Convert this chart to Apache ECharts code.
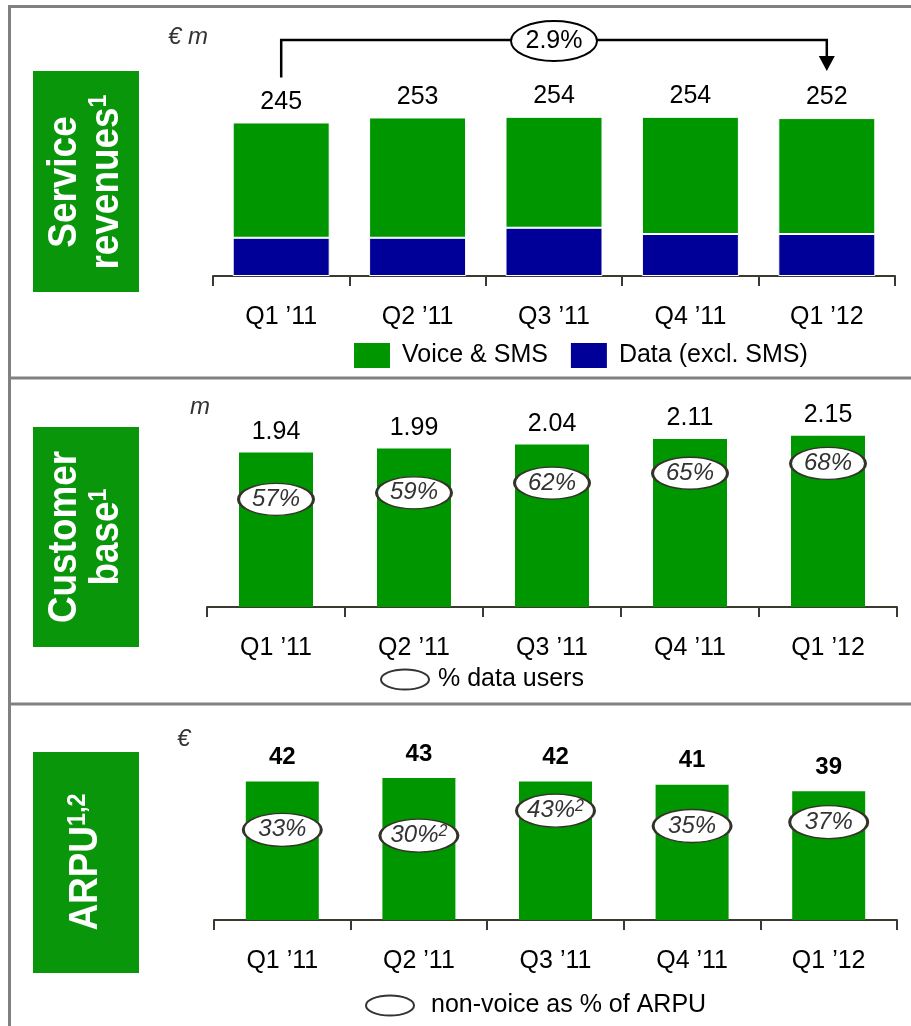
<!DOCTYPE html>
<html>
<head>
<meta charset="utf-8">
<script src="https://cdn.jsdelivr.net/npm/echarts@6/dist/echarts.min.js"></script>
<style>
  html, body { margin: 0; padding: 0; background: #fff; }
  #chart { width: 911px; height: 1026px; }
</style>
</head>
<body>
<div id="chart"></div>
<script>
// Quarterly KPIs: service revenues, customer base, ARPU
const quarters = ['Q1 \u201911', 'Q2 \u201911', 'Q3 \u201911', 'Q4 \u201911', 'Q1 \u201912'];

// Service revenues, EUR m
const serviceRevenueTotal = [245, 253, 254, 254, 252];
const dataExclSms = [61, 61, 77, 67, 67];
const voiceAndSms = serviceRevenueTotal.map((t, i) => t - dataExclSms[i]);

// Customer base, m, and share of data users
const customerBase = [1.94, 1.99, 2.04, 2.11, 2.15];
const dataUsersPct = [57, 59, 62, 65, 68];

// ARPU, EUR, and non-voice share of ARPU (with footnote marks)
const arpu = [42, 43, 42, 41, 39];
const nonVoicePct = [33, 30, 43, 35, 37];
const nonVoiceNote = ['', '2', '2', '', ''];

const FONT = '"Liberation Sans", Arial, Helvetica, sans-serif';
const GREEN = '#009600';
const BOX_GREEN = '#0a960a';
const BLUE = '#000099';
const AXIS = '#3a3a30';
const FRAME = '#808080';
const ELLIPSE = 'path://M0,10A24,10,0,1,1,48,10A24,10,0,1,1,0,10Z';

const chart = echarts.init(document.getElementById('chart'), null, { renderer: 'canvas' });

function xAxisFor(gridIndex) {
  return {
    type: 'category',
    gridIndex: gridIndex,
    data: quarters,
    axisLine: { show: true, lineStyle: { color: AXIS, width: 2 } },
    axisTick: { show: true, length: 10, lineStyle: { color: AXIS, width: 2 } },
    axisLabel: { fontSize: 25, color: '#000', fontFamily: FONT, margin: 29, interval: 0 },
    splitLine: { show: false }
  };
}

function hiddenY(gridIndex, min, max) {
  return { type: 'value', gridIndex: gridIndex, min: min, max: max, show: false, splitLine: { show: false } };
}

function sideLabel(cx, cy, text) {
  return {
    type: 'text',
    x: cx, y: cy,
    rotation: Math.PI / 2,
    scaleX: 0.9,
    style: {
      text: text,
      fill: '#fff',
      font: 'bold 41px ' + FONT,
      lineHeight: 42,
      align: 'center', verticalAlign: 'middle',
      textAlign: 'center', textVerticalAlign: 'middle',
      rich: {
        sup: { fontSize: 26, fontWeight: 'bold', fontFamily: FONT, fill: '#fff', color: '#fff', lineHeight: 41, verticalAlign: 'top' }
      }
    }
  };
}

function unitText(x, y, text) {
  return {
    type: 'text', x: x, y: y,
    style: {
      text: text, fill: '#333', font: 'italic 24px ' + FONT,
      verticalAlign: 'middle', textVerticalAlign: 'middle'
    }
  };
}

function frameLine(x1, y1, x2, y2) {
  return { type: 'line', shape: { x1: x1, y1: y1, x2: x2, y2: y2 }, style: { stroke: FRAME, lineWidth: 3 }, silent: true };
}

const ellipseLabel = {
  show: true,
  position: 'inside',
  fontSize: 24,
  fontStyle: 'italic',
  fontFamily: FONT,
  color: '#333',
  rich: {
    sup: { fontSize: 16, fontStyle: 'italic', fontFamily: FONT, color: '#333', lineHeight: 20, verticalAlign: 'top' }
  }
};

const option = {
  backgroundColor: '#fff',
  animation: false,
  textStyle: { fontFamily: FONT },
  grid: [
    { left: 213, top: 88, width: 682, height: 188, outerBoundsMode: 'none', containLabel: false },
    { left: 207, top: 408, width: 690, height: 199, outerBoundsMode: 'none', containLabel: false },
    { left: 214, top: 755, width: 683, height: 165, outerBoundsMode: 'none', containLabel: false }
  ],
  xAxis: [xAxisFor(0), xAxisFor(1), xAxisFor(2)],
  yAxis: [
    hiddenY(0, 0, 300),
    hiddenY(1, 0, 2.5),
    hiddenY(2, 0, 50),
    hiddenY(1, 24, 85),
    hiddenY(2, -14, 72)
  ],
  legend: [
    {
      data: ['Voice & SMS', 'Data (excl. SMS)'],
      left: 354, top: 343, padding: 0,
      itemWidth: 36, itemHeight: 25, itemGap: 23,
      icon: 'rect',
      itemStyle: { borderWidth: 0 },
      textStyle: { fontSize: 25, color: '#000', fontFamily: FONT, padding: [0, 0, 0, 7] },
      selectedMode: false
    },
    {
      data: ['% data users'],
      left: 380, top: 667, padding: 0,
      itemWidth: 48, itemHeight: 20,
      icon: ELLIPSE,
      itemStyle: { color: '#fff', borderColor: '#333', borderWidth: 2 },
      textStyle: { fontSize: 25, color: '#000', fontFamily: FONT, padding: [0, 0, 0, 4] },
      selectedMode: false
    },
    {
      data: ['non-voice as % of ARPU'],
      left: 365, top: 993, padding: 0,
      itemWidth: 48, itemHeight: 20,
      icon: ELLIPSE,
      itemStyle: { color: '#fff', borderColor: '#333', borderWidth: 2 },
      textStyle: { fontSize: 25, color: '#000', fontFamily: FONT, padding: [0, 0, 0, 12] },
      selectedMode: false
    }
  ],
  series: [
    {
      name: 'Data (excl. SMS)',
      type: 'bar', stack: 'revenue',
      xAxisIndex: 0, yAxisIndex: 0,
      barWidth: 97,
      data: dataExclSms,
      itemStyle: { color: BLUE, borderColor: '#fff', borderWidth: 1 }
    },
    {
      name: 'Voice & SMS',
      type: 'bar', stack: 'revenue',
      xAxisIndex: 0, yAxisIndex: 0,
      barWidth: 97,
      data: voiceAndSms,
      itemStyle: { color: GREEN, borderColor: '#fff', borderWidth: 1 },
      label: {
        show: true, position: 'top', distance: 8,
        fontSize: 25, color: '#000', fontFamily: FONT,
        formatter: (p) => String(serviceRevenueTotal[p.dataIndex])
      }
    },
    {
      name: 'Customer base',
      type: 'bar',
      xAxisIndex: 1, yAxisIndex: 1,
      barWidth: 74,
      data: customerBase,
      itemStyle: { color: GREEN },
      label: {
        show: true, position: 'top', distance: 8,
        fontSize: 25, color: '#000', fontFamily: FONT,
        formatter: (p) => customerBase[p.dataIndex].toFixed(2)
      }
    },
    {
      name: '% data users',
      type: 'scatter',
      xAxisIndex: 1, yAxisIndex: 3,
      data: dataUsersPct,
      symbol: ELLIPSE,
      symbolSize: [75, 32],
      itemStyle: { color: '#fff', borderColor: '#33332a', borderWidth: 2, opacity: 1 },
      label: Object.assign({}, ellipseLabel, {
        formatter: (p) => dataUsersPct[p.dataIndex] + '%'
      }),
      z: 5
    },
    {
      name: 'ARPU',
      type: 'bar',
      xAxisIndex: 2, yAxisIndex: 2,
      barWidth: 73,
      data: arpu,
      itemStyle: { color: GREEN },
      label: {
        show: true, position: 'top', distance: 12,
        fontSize: 24, fontWeight: 'bold', color: '#000', fontFamily: FONT,
        formatter: (p) => String(arpu[p.dataIndex])
      }
    },
    {
      name: 'non-voice as % of ARPU',
      type: 'scatter',
      xAxisIndex: 2, yAxisIndex: 4,
      data: nonVoicePct,
      symbol: ELLIPSE,
      symbolSize: [78, 33],
      itemStyle: { color: '#fff', borderColor: '#33332a', borderWidth: 2, opacity: 1 },
      label: Object.assign({}, ellipseLabel, {
        formatter: (p) => {
          const note = nonVoiceNote[p.dataIndex];
          return nonVoicePct[p.dataIndex] + '%' + (note ? '{sup|' + note + '}' : '');
        }
      }),
      z: 5
    }
  ],
  graphic: [
    // outer frame and panel separators
    frameLine(9.5, 6.5, 911, 6.5),
    frameLine(9.5, 5, 9.5, 1026),
    frameLine(9.5, 378, 911, 378),
    frameLine(9.5, 704, 911, 704),
    // panel title boxes
    { type: 'rect', shape: { x: 33, y: 71, width: 106, height: 221 }, style: { fill: BOX_GREEN } },
    { type: 'rect', shape: { x: 33, y: 427, width: 106, height: 220 }, style: { fill: BOX_GREEN } },
    { type: 'rect', shape: { x: 33, y: 752, width: 106, height: 221 }, style: { fill: BOX_GREEN } },
    sideLabel(86, 182, 'Service\nrevenues{sup|1}'),
    sideLabel(86, 537, 'Customer\nbase{sup|1}'),
    sideLabel(86, 862, 'ARPU{sup|1,2}'),
    // units
    unitText(168, 37, '\u20ac m'),
    unitText(190, 407, 'm'),
    unitText(177, 739, '\u20ac')
  ]
};

chart.setOption(option);

// Growth bracket from the first to the last quarter of service revenues
const first = serviceRevenueTotal[0];
const last = serviceRevenueTotal[serviceRevenueTotal.length - 1];
const growthText = ((last / first - 1) * 100).toFixed(1) + '%';
const xStart = chart.convertToPixel({ xAxisIndex: 0 }, quarters[0]);
const xEnd = chart.convertToPixel({ xAxisIndex: 0 }, quarters[quarters.length - 1]);
const yStart = chart.convertToPixel({ yAxisIndex: 0 }, first) - 45;
const yTip = chart.convertToPixel({ yAxisIndex: 0 }, last) - 47;
const yBar = 40;
const head = 15;
const midX = (xStart + xEnd) / 2;

chart.setOption({
  graphic: option.graphic.concat([
    {
      type: 'polyline',
      shape: { points: [[xStart, yStart], [xStart, yBar], [xEnd, yBar], [xEnd, yTip - head + 1]] },
      style: { stroke: '#000', lineWidth: 2.5, fill: null }
    },
    {
      type: 'polygon',
      shape: { points: [[xEnd - 8, yTip - head], [xEnd + 8, yTip - head], [xEnd, yTip]] },
      style: { fill: '#000' }
    },
    {
      type: 'ellipse',
      shape: { cx: midX, cy: yBar + 1, rx: 43, ry: 20 },
      style: { fill: '#fff', stroke: '#000', lineWidth: 2 }
    },
    {
      type: 'text',
      x: midX, y: yBar + 1,
      style: {
        text: growthText, fill: '#000', font: '25px ' + FONT,
        align: 'center', verticalAlign: 'middle',
        textAlign: 'center', textVerticalAlign: 'middle'
      }
    }
  ])
});
</script>
</body>
</html>
